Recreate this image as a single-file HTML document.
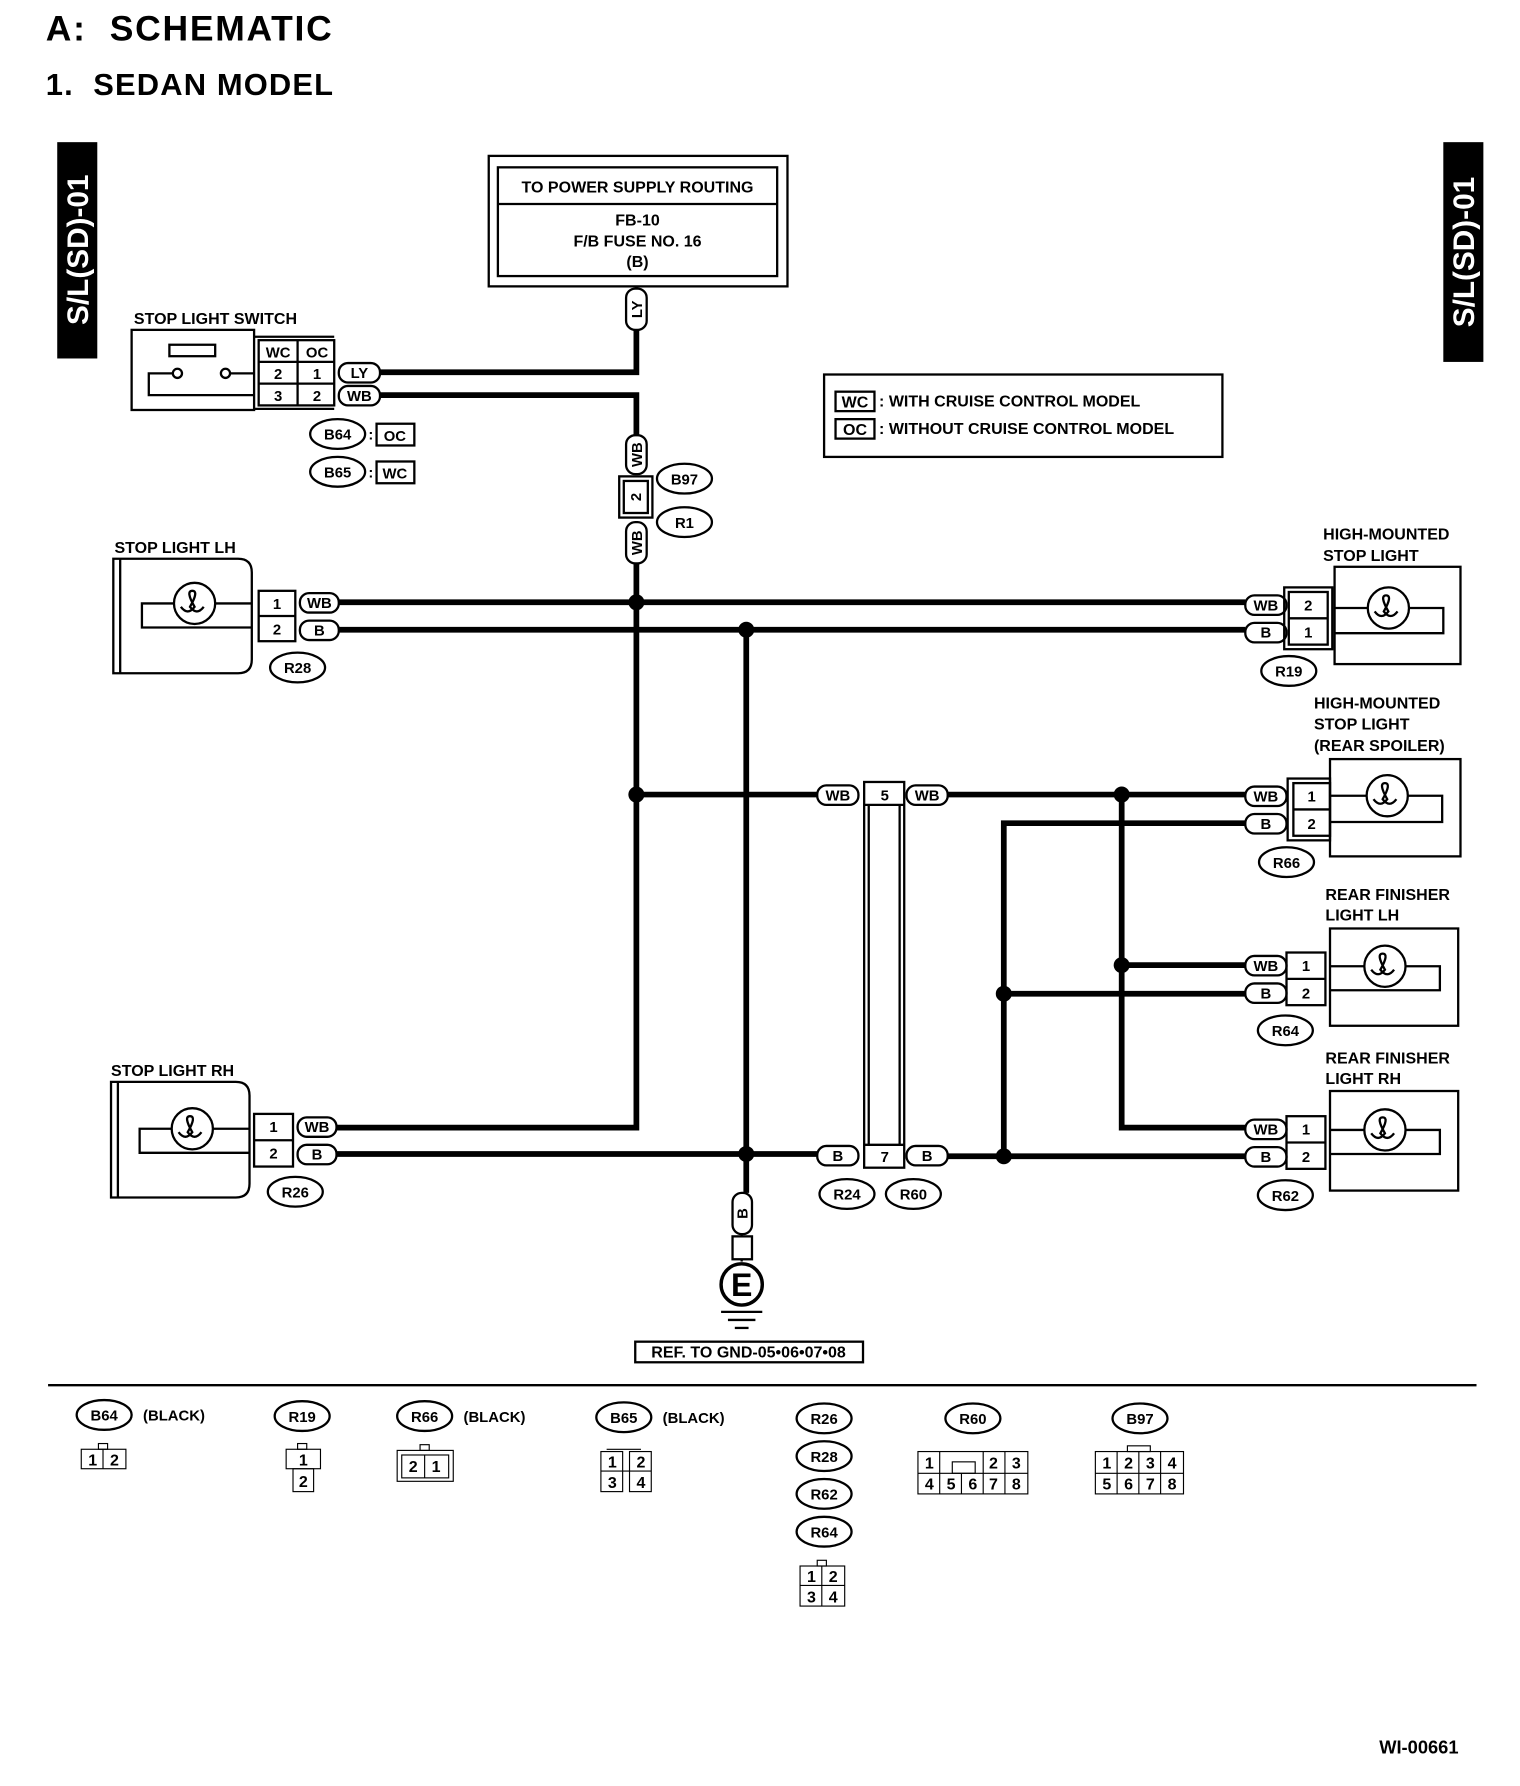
<!DOCTYPE html>
<html><head><meta charset="utf-8"><style>
html,body{margin:0;padding:0;background:#fff}
svg{display:block}
text{font-family:"Liberation Sans",Arial,sans-serif;font-weight:bold;fill:#000}
</style></head><body>
<svg width="1520" height="1786" viewBox="0 0 1328 1560" xmlns="http://www.w3.org/2000/svg">
<text x="40" y="35" font-size="31" letter-spacing="1.5">A:&#160;&#160;SCHEMATIC</text>
<text x="40" y="83" font-size="27" letter-spacing="1">1.&#160;&#160;SEDAN MODEL</text>

<!-- side tabs -->
<rect x="50" y="124" width="35" height="189" fill="#000"/>
<text transform="translate(77,218) rotate(-90)" text-anchor="middle" font-size="26" style="fill:#fff">S/L(SD)-01</text>
<rect x="1261" y="124" width="35" height="192" fill="#000"/>
<text transform="translate(1288,220) rotate(-90)" text-anchor="middle" font-size="26" style="fill:#fff">S/L(SD)-01</text>

<!-- power box -->
<g fill="none" stroke="#000" stroke-width="2">
<rect x="427" y="136" width="261" height="114"/>
<rect x="435" y="146" width="244" height="95"/>
<line x1="435" y1="178" x2="679" y2="178"/>
</g>
<g font-size="14" text-anchor="middle">
<text x="557" y="168">TO POWER SUPPLY ROUTING</text>
<text x="557" y="197">FB-10</text>
<text x="557" y="215">F/B FUSE NO. 16</text>
<text x="557" y="233">(B)</text>
</g>

<!-- thick wires -->
<g fill="none" stroke="#000" stroke-width="5">
<polyline points="556,288 556,325 332,325"/>
<polyline points="332,345 556,345 556,380"/>
<polyline points="556,492 556,985 294,985"/>
<line x1="296" y1="526" x2="1088" y2="526"/>
<line x1="296" y1="550" x2="1088" y2="550"/>
<line x1="652" y1="550" x2="652" y2="1042"/>
<line x1="556" y1="694" x2="714" y2="694"/>
<line x1="828" y1="694" x2="1088" y2="694"/>
<polyline points="1088,719 877,719 877,1010"/>
<polyline points="980,694 980,985 1088,985"/>
<line x1="980" y1="843" x2="1088" y2="843"/>
<line x1="877" y1="868" x2="1088" y2="868"/>
<line x1="294" y1="1008" x2="714" y2="1008"/>
<line x1="828" y1="1010" x2="1088" y2="1010"/>
</g>
<g fill="#000">
<circle cx="556" cy="526" r="7"/><circle cx="652" cy="550" r="7"/>
<circle cx="556" cy="694" r="7"/><circle cx="980" cy="694" r="7"/>
<circle cx="980" cy="843" r="7"/><circle cx="877" cy="868" r="7"/>
<circle cx="652" cy="1008" r="7"/><circle cx="877" cy="1010" r="7"/>
</g>

<!-- pills -->
<g fill="#fff" stroke="#000" stroke-width="2">
<rect x="547" y="252" width="18" height="36" rx="8"/>
<rect x="296" y="317" width="36" height="17" rx="8"/>
<rect x="296" y="337" width="36" height="17" rx="8"/>
<rect x="547" y="380" width="18" height="34" rx="8"/>
<rect x="547" y="456" width="18" height="36" rx="8"/>
<rect x="262" y="518" width="34" height="17" rx="8"/>
<rect x="262" y="542" width="34" height="17" rx="8"/>
<rect x="260" y="976" width="34" height="17" rx="8"/>
<rect x="260" y="1000" width="34" height="17" rx="8"/>
<rect x="714" y="686" width="36" height="17" rx="8"/>
<rect x="792" y="686" width="36" height="17" rx="8"/>
<rect x="714" y="1001" width="36" height="17" rx="8"/>
<rect x="792" y="1001" width="36" height="17" rx="8"/>
<rect x="1088" y="520" width="36" height="17" rx="8"/>
<rect x="1088" y="544" width="36" height="17" rx="8"/>
<rect x="1088" y="687" width="36" height="17" rx="8"/>
<rect x="1088" y="711" width="36" height="17" rx="8"/>
<rect x="1088" y="835" width="36" height="17" rx="8"/>
<rect x="1088" y="859" width="36" height="17" rx="8"/>
<rect x="1088" y="978" width="36" height="17" rx="8"/>
<rect x="1088" y="1002" width="36" height="17" rx="8"/>
<rect x="640" y="1042" width="17" height="36" rx="8"/>
</g>
<g font-size="13" text-anchor="middle">
<text transform="translate(561,270) rotate(-90)">LY</text>
<text x="314" y="330">LY</text><text x="314" y="350">WB</text>
<text transform="translate(561,397) rotate(-90)">WB</text>
<text transform="translate(561,474) rotate(-90)">WB</text>
<text x="279" y="531">WB</text><text x="279" y="555">B</text>
<text x="277" y="989">WB</text><text x="277" y="1013">B</text>
<text x="732" y="699">WB</text><text x="810" y="699">WB</text>
<text x="732" y="1014">B</text><text x="810" y="1014">B</text>
<text x="1106" y="533">WB</text><text x="1106" y="557">B</text>
<text x="1106" y="700">WB</text><text x="1106" y="724">B</text>
<text x="1106" y="848">WB</text><text x="1106" y="872">B</text>
<text x="1106" y="991">WB</text><text x="1106" y="1015">B</text>
<text transform="translate(653,1060) rotate(-90)">B</text>
</g>

<!-- stop light switch -->
<text x="117" y="283" font-size="14">STOP LIGHT SWITCH</text>
<g fill="none" stroke="#000" stroke-width="2">
<rect x="115" y="288" width="107" height="70"/>
<rect x="148" y="301" width="40" height="10"/>
<circle cx="155" cy="326" r="4"/><circle cx="197" cy="326" r="4"/>
<polyline points="151,326 130,326 130,345 222,345"/>
<line x1="201" y1="326" x2="222" y2="326"/>
<rect x="226" y="297" width="66" height="57"/>
<line x1="226" y1="316" x2="292" y2="316"/><line x1="226" y1="335" x2="292" y2="335"/>
<line x1="260" y1="297" x2="260" y2="354"/>
<line x1="222" y1="294" x2="292" y2="294"/><line x1="222" y1="357" x2="292" y2="357"/>
</g>
<g font-size="13" text-anchor="middle">
<text x="243" y="312">WC</text><text x="277" y="312">OC</text>
<text x="243" y="331">2</text><text x="277" y="331">1</text>
<text x="243" y="350">3</text><text x="277" y="350">2</text>
</g>
<g fill="none" stroke="#000" stroke-width="2">
<ellipse cx="295" cy="379" rx="24" ry="13"/><rect x="329" y="370" width="33" height="19"/>
<ellipse cx="295" cy="412" rx="24" ry="13"/><rect x="329" y="403" width="33" height="19"/>
<rect x="541" y="416" width="29" height="36"/><rect x="545" y="420" width="21" height="28"/>
<ellipse cx="598" cy="418" rx="24" ry="13"/><ellipse cx="598" cy="456" rx="24" ry="13"/>
</g>
<g font-size="13" text-anchor="middle">
<text x="295" y="384">B64</text><text x="324" y="384">:</text><text x="345" y="385">OC</text>
<text x="295" y="417">B65</text><text x="324" y="417">:</text><text x="345" y="418">WC</text>
<text transform="translate(560,434) rotate(-90)">2</text>
<text x="598" y="423">B97</text><text x="598" y="461">R1</text>
</g>

<!-- legend -->
<g fill="none" stroke="#000" stroke-width="2">
<rect x="720" y="327" width="348" height="72"/>
<rect x="730" y="342" width="34" height="17"/><rect x="730" y="366" width="34" height="17"/>
</g>
<g font-size="14">
<text x="747" y="356" text-anchor="middle">WC</text><text x="768" y="355">: WITH CRUISE CONTROL MODEL</text>
<text x="747" y="380" text-anchor="middle">OC</text><text x="768" y="379">: WITHOUT CRUISE CONTROL MODEL</text>
</g>

<!-- stop light LH / RH -->
<g fill="none" stroke="#000" stroke-width="2">
<path d="M99,488 H208 Q220,488 220,500 V576 Q220,588 208,588 H99 Z"/><line x1="105" y1="488" x2="105" y2="588"/>
<circle cx="170" cy="527" r="18"/><path d="M158,530 q6,8 12,0 q-8,-14 -2,-14 q6,0 -2,14 q6,8 12,0"/>
<polyline points="152,527 124,527 124,548 220,548"/><line x1="188" y1="527" x2="220" y2="527"/>
<rect x="226" y="516" width="32" height="44"/><line x1="226" y1="538" x2="258" y2="538"/>
<ellipse cx="260" cy="583" rx="24" ry="13"/>

<path d="M97,945 H206 Q218,945 218,957 V1034 Q218,1046 206,1046 H97 Z"/><line x1="103" y1="945" x2="103" y2="1046"/>
<circle cx="168" cy="986" r="18"/><path d="M156,989 q6,8 12,0 q-8,-14 -2,-14 q6,0 -2,14 q6,8 12,0"/>
<polyline points="150,986 122,986 122,1007 218,1007"/><line x1="186" y1="986" x2="218" y2="986"/>
<rect x="222" y="973" width="34" height="46"/><line x1="222" y1="996" x2="256" y2="996"/>
<ellipse cx="258" cy="1041" rx="24" ry="13"/>
</g>
<g font-size="14">
<text x="100" y="483">STOP LIGHT LH</text><text x="97" y="940">STOP LIGHT RH</text>
</g>
<g font-size="13" text-anchor="middle">
<text x="242" y="532">1</text><text x="242" y="554">2</text><text x="260" y="588">R28</text>
<text x="239" y="989">1</text><text x="239" y="1012">2</text><text x="258" y="1046">R26</text>
</g>

<!-- R24/R60 long connector -->
<g fill="none" stroke="#000" stroke-width="2">
<rect x="755" y="683" width="35" height="337"/>
<line x1="759" y1="703" x2="759" y2="1000"/><line x1="786" y1="703" x2="786" y2="1000"/>
<line x1="755" y1="703" x2="790" y2="703"/><line x1="755" y1="1000" x2="790" y2="1000"/>
<ellipse cx="740" cy="1043" rx="24" ry="13"/><ellipse cx="798" cy="1043" rx="24" ry="13"/>
</g>
<g font-size="13" text-anchor="middle">
<text x="773" y="699">5</text><text x="773" y="1015">7</text>
<text x="740" y="1048">R24</text><text x="798" y="1048">R60</text>
</g>

<!-- right side lamps -->
<g fill="none" stroke="#000" stroke-width="2">
<rect x="1166" y="495" width="110" height="85"/>
<circle cx="1213" cy="531" r="18"/><path d="M1201,534 q6,8 12,0 q-8,-14 -2,-14 q6,0 -2,14 q6,8 12,0"/>
<polyline points="1166,531 1195,531"/><polyline points="1231,531 1261,531 1261,553 1166,553"/>
<rect x="1126" y="517" width="34" height="46"/><line x1="1126" y1="540" x2="1160" y2="540"/>
<rect x="1122" y="513" width="42" height="54"/>
<ellipse cx="1126" cy="586" rx="24" ry="13"/>

<rect x="1162" y="663" width="114" height="85"/>
<circle cx="1212" cy="695" r="18"/><path d="M1200,698 q6,8 12,0 q-8,-14 -2,-14 q6,0 -2,14 q6,8 12,0"/>
<polyline points="1162,695 1194,695"/><polyline points="1230,695 1260,695 1260,718 1162,718"/>
<rect x="1130" y="684" width="32" height="46"/><line x1="1130" y1="707" x2="1162" y2="707"/>
<rect x="1125" y="680" width="37" height="54"/>
<ellipse cx="1124" cy="753" rx="24" ry="13"/>

<rect x="1162" y="811" width="112" height="85"/>
<circle cx="1210" cy="844" r="18"/><path d="M1198,847 q6,8 12,0 q-8,-14 -2,-14 q6,0 -2,14 q6,8 12,0"/>
<polyline points="1162,844 1192,844"/><polyline points="1228,844 1258,844 1258,865 1162,865"/>
<rect x="1124" y="832" width="34" height="46"/><line x1="1124" y1="855" x2="1158" y2="855"/>
<ellipse cx="1123" cy="900" rx="24" ry="13"/>

<rect x="1162" y="953" width="112" height="87"/>
<circle cx="1210" cy="987" r="18"/><path d="M1198,990 q6,8 12,0 q-8,-14 -2,-14 q6,0 -2,14 q6,8 12,0"/>
<polyline points="1162,987 1192,987"/><polyline points="1228,987 1258,987 1258,1008 1162,1008"/>
<rect x="1124" y="975" width="34" height="46"/><line x1="1124" y1="998" x2="1158" y2="998"/>
<ellipse cx="1123" cy="1044" rx="24" ry="13"/>
</g>
<g font-size="14">
<text x="1156" y="471">HIGH-MOUNTED</text><text x="1156" y="490">STOP LIGHT</text>
<text x="1148" y="619">HIGH-MOUNTED</text><text x="1148" y="637">STOP LIGHT</text><text x="1148" y="656">(REAR SPOILER)</text>
<text x="1158" y="786">REAR FINISHER</text><text x="1158" y="804">LIGHT LH</text>
<text x="1158" y="929">REAR FINISHER</text><text x="1158" y="947">LIGHT RH</text>
</g>
<g font-size="13" text-anchor="middle">
<text x="1143" y="533">2</text><text x="1143" y="557">1</text><text x="1126" y="591">R19</text>
<text x="1146" y="700">1</text><text x="1146" y="724">2</text><text x="1124" y="758">R66</text>
<text x="1141" y="848">1</text><text x="1141" y="872">2</text><text x="1123" y="905">R64</text>
<text x="1141" y="991">1</text><text x="1141" y="1015">2</text><text x="1123" y="1049">R62</text>
</g>

<!-- ground -->
<g fill="none" stroke="#000" stroke-width="2">
<line x1="648" y1="1078" x2="648" y2="1102"/>
<rect x="640" y="1080" width="17" height="20" fill="#fff"/>
<circle cx="648" cy="1122" r="18" stroke-width="3"/>
<line x1="630" y1="1146" x2="666" y2="1146"/><line x1="636" y1="1153" x2="660" y2="1153"/><line x1="642" y1="1160" x2="654" y2="1160"/>
<rect x="555" y="1172" width="199" height="18"/>
<line x1="42" y1="1210" x2="1290" y2="1210"/>
</g>
<text x="648" y="1132" font-size="28" text-anchor="middle">E</text>
<text x="654" y="1186" font-size="14" text-anchor="middle" font-weight="normal">REF. TO GND-05•06•07•08</text>

<!-- bottom connector views -->
<g fill="none" stroke="#000" stroke-width="2">
<ellipse cx="91" cy="1236" rx="24" ry="13"/><ellipse cx="264" cy="1237" rx="24" ry="13"/>
<ellipse cx="371" cy="1237" rx="24" ry="13"/><ellipse cx="545" cy="1238" rx="24" ry="13"/>
<ellipse cx="720" cy="1239" rx="24" ry="13"/><ellipse cx="720" cy="1272" rx="24" ry="13"/>
<ellipse cx="720" cy="1305" rx="24" ry="13"/><ellipse cx="720" cy="1338" rx="24" ry="13"/>
<ellipse cx="850" cy="1239" rx="24" ry="13"/><ellipse cx="996" cy="1239" rx="24" ry="13"/>
</g>
<g fill="none" stroke="#000" stroke-width="1">
<rect x="71" y="1266" width="39" height="17"/><line x1="90" y1="1266" x2="90" y2="1283"/><rect x="86" y="1261" width="8" height="5"/>
<rect x="250" y="1266" width="30" height="17"/><rect x="256" y="1283" width="18" height="20"/><rect x="260" y="1261" width="8" height="5"/>
<rect x="347" y="1267" width="49" height="27"/><rect x="351" y="1271" width="41" height="20"/><line x1="371" y1="1271" x2="371" y2="1291"/><rect x="367" y="1262" width="8" height="5"/>
<rect x="525" y="1268" width="19" height="35"/><rect x="550" y="1268" width="19" height="35"/><line x1="525" y1="1285" x2="569" y2="1285"/><line x1="530" y1="1266" x2="560" y2="1266"/>
<rect x="699" y="1368" width="39" height="35"/><line x1="718" y1="1368" x2="718" y2="1403"/><line x1="699" y1="1385" x2="738" y2="1385"/><rect x="714" y="1363" width="8" height="5"/>
<rect x="802" y="1268" width="96" height="37"/><line x1="802" y1="1287" x2="898" y2="1287"/>
<line x1="821" y1="1268" x2="821" y2="1305"/><line x1="840" y1="1287" x2="840" y2="1305"/><line x1="859" y1="1287" x2="859" y2="1305"/><line x1="878" y1="1268" x2="878" y2="1305"/><line x1="859" y1="1268" x2="859" y2="1287"/>
<rect x="832" y="1277" width="20" height="10"/>
<rect x="957" y="1268" width="77" height="37"/><line x1="957" y1="1287" x2="1034" y2="1287"/>
<line x1="976" y1="1268" x2="976" y2="1305"/><line x1="995" y1="1268" x2="995" y2="1305"/><line x1="1014" y1="1268" x2="1014" y2="1305"/><rect x="985" y="1263" width="20" height="5"/>
</g>
<g font-size="13" text-anchor="middle">
<text x="91" y="1241">B64</text><text x="152" y="1241">(BLACK)</text>
<text x="264" y="1242">R19</text>
<text x="371" y="1242">R66</text><text x="432" y="1242">(BLACK)</text>
<text x="545" y="1243">B65</text><text x="606" y="1243">(BLACK)</text>
<text x="720" y="1244">R26</text><text x="720" y="1277">R28</text><text x="720" y="1310">R62</text><text x="720" y="1343">R64</text>
<text x="850" y="1244">R60</text><text x="996" y="1244">B97</text>
</g>
<g font-size="14" text-anchor="middle">
<text x="81" y="1280" font-weight="normal">1</text><text x="100" y="1280" font-weight="normal">2</text>
<text x="265" y="1280" font-weight="normal">1</text><text x="265" y="1299" font-weight="normal">2</text>
<text x="361" y="1286" font-weight="normal">2</text><text x="381" y="1286" font-weight="normal">1</text>
<text x="535" y="1282" font-weight="normal">1</text><text x="560" y="1282" font-weight="normal">2</text><text x="535" y="1300" font-weight="normal">3</text><text x="560" y="1300" font-weight="normal">4</text>
<text x="709" y="1382" font-weight="normal">1</text><text x="728" y="1382" font-weight="normal">2</text><text x="709" y="1400" font-weight="normal">3</text><text x="728" y="1400" font-weight="normal">4</text>
<text x="812" y="1283" font-weight="normal">1</text><text x="868" y="1283" font-weight="normal">2</text><text x="888" y="1283" font-weight="normal">3</text>
<text x="812" y="1301" font-weight="normal">4</text><text x="831" y="1301" font-weight="normal">5</text><text x="850" y="1301" font-weight="normal">6</text><text x="868" y="1301" font-weight="normal">7</text><text x="888" y="1301" font-weight="normal">8</text>
<text x="967" y="1283" font-weight="normal">1</text><text x="986" y="1283" font-weight="normal">2</text><text x="1005" y="1283" font-weight="normal">3</text><text x="1024" y="1283" font-weight="normal">4</text>
<text x="967" y="1301" font-weight="normal">5</text><text x="986" y="1301" font-weight="normal">6</text><text x="1005" y="1301" font-weight="normal">7</text><text x="1024" y="1301" font-weight="normal">8</text>
</g>
<text x="1205" y="1532" font-size="16" font-weight="normal">WI-00661</text>
</svg>
</body></html>
